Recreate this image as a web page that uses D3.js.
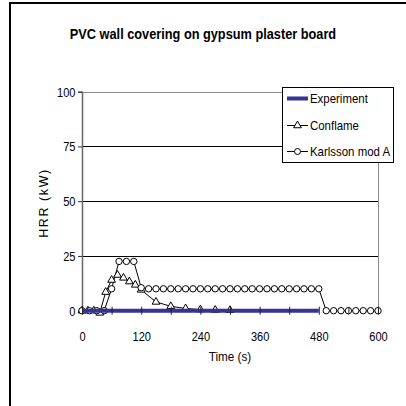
<!DOCTYPE html>
<html><head><meta charset="utf-8">
<script src="https://cdn.jsdelivr.net/npm/d3@7/dist/d3.min.js"></script>
<style>
html,body{margin:0;padding:0;background:#fff;}
svg{display:block;}
text{font-family:"Liberation Sans",Arial,sans-serif;fill:#000;}
</style>
</head><body>
<svg id="c" width="406" height="406"></svg>
<script>
// ---- data ----
const chartTitle = "PVC wall covering on gypsum plaster board";
const xTitle = "Time (s)";
const yTitle = "HRR (kW)";
const seriesNames = ["Experiment", "Conflame", "Karlsson mod A"];
const xTickLabels = [0, 120, 240, 360, 480, 600];
const xTickMarks = [0, 60, 120, 180, 240, 300, 360, 420, 480, 540, 600];
const yTickLabels = [0, 25, 50, 75, 100];

const expTime = [0, 60, 120, 180, 240, 300, 360, 420, 480];
const expHRR  = [0, 0, 0, 0, 0, 0, 0, 0, 0];

const confTime = [0, 12, 24, 36, 48, 60, 72, 84, 96, 108, 120, 150, 180, 210, 240, 270, 300];
const confHRR  = [0, 0, 0, -1, 8.5, 14, 16.3, 15, 13.3, 11.8, 9.5, 4, 2, 1, 0.5, 0.3, 0.2];

const karlTime = [0, 15, 30, 45, 60, 75, 90, 105, 120, 135, 150, 165, 180, 195, 210, 225, 240,
                  255, 270, 285, 300, 315, 330, 345, 360, 375, 390, 405, 420, 435, 450, 465, 480,
                  495, 510, 525, 540, 555, 570, 585, 600];
const karlHRR  = [0, 0, 0, 0, 10, 22.5, 22.5, 22.5, 10.5, 10, 10, 10, 10, 10, 10, 10, 10,
                  10, 10, 10, 10, 10, 10, 10, 10, 10, 10, 10, 10, 10, 10, 10, 10,
                  0, 0, 0, 0, 0, 0, 0, 0];

// ---- drawing ----
const svg = d3.select("#c");
const x = d3.scaleLinear().domain([0, 600]).range([82, 378]);
const y = d3.scaleLinear().domain([0, 100]).range([310.7, 91.7]);
const navy = "#333399";

// outer frame
svg.append("rect").attr("x", 10).attr("y", 3).attr("width", 430).attr("height", 430)
  .attr("fill", "#fff").attr("stroke", "#000").attr("stroke-width", 2);

// title
svg.append("text").attr("transform", "translate(203,39) scale(0.88,1)")
  .attr("text-anchor", "middle").attr("font-size", 14.5).attr("font-weight", "bold")
  .text(chartTitle);

// gridlines
svg.append("g").selectAll("line").data(yTickLabels.filter(d => d > 0 && d < 100)).join("line")
  .attr("x1", x(0)).attr("x2", x(600)).attr("y1", d => Math.round(y(d)) + 0.5).attr("y2", d => Math.round(y(d)) + 0.5)
  .attr("stroke", "#000").attr("stroke-width", 1);
// plot top / right border
svg.append("path")
  .attr("d", `M${x(0)},${Math.round(y(100)) + 0.5}H${x(600) + 0.5}V${y(0)}`)
  .attr("fill", "none").attr("stroke", "#8c8c8c").attr("stroke-width", 1);

// y axis
const yAxis = svg.append("g").attr("transform", `translate(${x(0)},0)`)
  .call(d3.axisLeft(y).tickValues(yTickLabels).tickSize(4).tickPadding(4).tickFormat(d3.format("d")));
yAxis.select(".domain").attr("stroke", "#666").attr("stroke-width", 1.5);
yAxis.selectAll(".tick line").attr("stroke", "#333");
yAxis.selectAll(".tick text").attr("font-size", 13.5).attr("font-family", null)
  .attr("transform", "scale(0.82,1)").attr("fill", "#000");

// lines
const lineGen = d3.line().x(d => x(d[0])).y(d => y(d[1]));
const confPts = confTime.map((t, i) => [t, confHRR[i]]);
const karlPts = karlTime.map((t, i) => [t, karlHRR[i]]);
const expPts  = expTime.map((t, i) => [t, expHRR[i]]);

svg.append("path").datum(confPts).attr("d", lineGen).attr("fill", "none").attr("stroke", "#000").attr("stroke-width", 1);
svg.append("path").datum(karlPts).attr("d", lineGen).attr("fill", "none").attr("stroke", "#000").attr("stroke-width", 1);

const tri = d3.symbol().type(d3.symbolTriangle).size(26);
svg.append("g").selectAll("path").data(confPts).join("path")
  .attr("transform", d => `translate(${x(d[0])},${y(d[1])})`).attr("d", tri)
  .attr("fill", "#fff").attr("stroke", "#000").attr("stroke-width", 1);
svg.append("g").selectAll("circle").data(karlPts).join("circle")
  .attr("cx", d => x(d[0])).attr("cy", d => y(d[1])).attr("r", 3.2)
  .attr("fill", "#fff").attr("stroke", "#000").attr("stroke-width", 1);

svg.append("path").datum(expPts).attr("d", lineGen).attr("fill", "none").attr("stroke", navy).attr("stroke-width", 4);

// x axis ticks (crossing) and labels
const xAxis = svg.append("g").attr("transform", `translate(0,${y(0) - 4})`)
  .call(d3.axisBottom(x).tickValues(xTickMarks).tickSize(8).tickFormat(""));
xAxis.select(".domain").remove();
xAxis.selectAll(".tick line").attr("stroke", "#222");
const xLab = svg.append("g").attr("transform", `translate(0,${y(0)})`)
  .call(d3.axisBottom(x).tickValues(xTickLabels).tickSize(0).tickPadding(21).tickFormat(d3.format("d")));
xLab.select(".domain").remove();
xLab.selectAll(".tick text").attr("font-size", 13.5).attr("font-family", null)
  .attr("transform", "scale(0.82,1)").attr("fill", "#000");

// axis titles
svg.append("text").attr("transform", `translate(${(x(0) + x(600)) / 2},361) scale(0.9,1)`)
  .attr("text-anchor", "middle").attr("font-size", 13).text(xTitle);
svg.append("text").attr("transform", "translate(48,203) rotate(-90)")
  .attr("text-anchor", "middle").attr("font-size", 12.5).attr("letter-spacing", 1.6).text(yTitle);

// legend
const lg = svg.append("g").attr("transform", "translate(282,87)");
lg.append("rect").attr("x", 0.5).attr("y", 0.5).attr("width", 111).attr("height", 75)
  .attr("fill", "#fff").attr("stroke", "#000").attr("stroke-width", 1);
const rowY = [11.5, 38.5, 64.5];
seriesNames.forEach((name, i) => {
  const g = lg.append("g").attr("transform", `translate(0,${rowY[i]})`);
  g.append("line").attr("x1", 5).attr("x2", 26).attr("y1", 0).attr("y2", 0)
    .attr("stroke", i === 0 ? navy : "#000").attr("stroke-width", i === 0 ? 4 : 1);
  if (i === 1) g.append("path").attr("transform", "translate(15.5,0)").attr("d", tri)
    .attr("fill", "#fff").attr("stroke", "#000");
  if (i === 2) g.append("circle").attr("cx", 15.5).attr("cy", 0).attr("r", 3)
    .attr("fill", "#fff").attr("stroke", "#000");
  g.append("text").attr("transform", "translate(28,0) scale(0.88,1)").attr("dy", "0.35em")
    .attr("font-size", 13).text(name);
});
</script>
</body></html>
